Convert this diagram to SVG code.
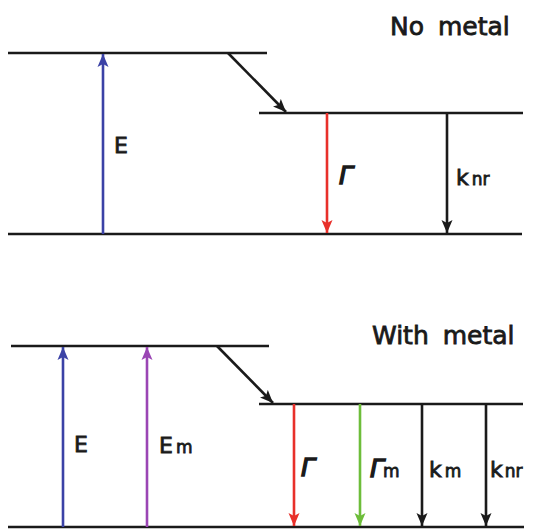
<svg xmlns="http://www.w3.org/2000/svg" width="534" height="529" viewBox="0 0 534 529">
<style>
.lvl{stroke:#1a1a1a;stroke-width:2.7;fill:none;stroke-linecap:butt}
.arr{stroke-width:2.6;fill:none}
.t{font-family:"DejaVu Sans","Liberation Sans",sans-serif;fill:#1a1a1a;stroke:#1a1a1a;stroke-width:0.8}
.title{font-size:25px;word-spacing:6px}
.lab{font-size:22px}
.gam{font-size:25px;font-style:italic;stroke-width:1.4}
.sub{font-size:17px;font-style:normal;stroke-width:0.8}
</style>
<defs>
<marker id="mk" markerUnits="userSpaceOnUse" markerWidth="14" markerHeight="12" refX="13" refY="6" orient="auto" viewBox="0 0 14 12"><path d="M0,0.5 L13,6 L0,11.5 L3,6 z" fill="#1a1a1a"/></marker>
<marker id="mb" markerUnits="userSpaceOnUse" markerWidth="14" markerHeight="12" refX="13" refY="6" orient="auto" viewBox="0 0 14 12"><path d="M0,0.5 L13,6 L0,11.5 L3,6 z" fill="#3b42a6"/></marker>
<marker id="mp" markerUnits="userSpaceOnUse" markerWidth="14" markerHeight="12" refX="13" refY="6" orient="auto" viewBox="0 0 14 12"><path d="M0,0.5 L13,6 L0,11.5 L3,6 z" fill="#9a45b4"/></marker>
<marker id="mr" markerUnits="userSpaceOnUse" markerWidth="14" markerHeight="12" refX="13" refY="6" orient="auto" viewBox="0 0 14 12"><path d="M0,0.5 L13,6 L0,11.5 L3,6 z" fill="#e8302a"/></marker>
<marker id="mg" markerUnits="userSpaceOnUse" markerWidth="14" markerHeight="12" refX="13" refY="6" orient="auto" viewBox="0 0 14 12"><path d="M0,0.5 L13,6 L0,11.5 L3,6 z" fill="#6dbd3a"/></marker>
</defs>
<rect width="534" height="529" fill="#ffffff"/>

<g id="panel-no-metal">
  <g id="levels-top">
    <line class="lvl" x1="8" y1="53" x2="267" y2="53"/>
    <line class="lvl" x1="259" y1="113" x2="523" y2="113"/>
    <line class="lvl" x1="8" y1="234" x2="522" y2="234"/>
  </g>
  <g id="connectors-top">
    <line class="arr" stroke="#3b42a6" x1="103" y1="234" x2="103" y2="54" marker-end="url(#mb)"/>
    <line class="arr" stroke="#1a1a1a" x1="228" y1="53" x2="286" y2="112" marker-end="url(#mk)"/>
    <line class="arr" stroke="#e8302a" x1="327" y1="113" x2="327" y2="233" marker-end="url(#mr)"/>
    <line class="arr" stroke="#1a1a1a" x1="447" y1="113" x2="447" y2="233" marker-end="url(#mk)"/>
  </g>
  <g id="labels-top">
    <text class="t title" x="390" y="35">No metal</text>
    <text class="t lab" x="114" y="153">E</text>
    <text class="t gam" x="339" y="184">Γ</text>
    <text class="t lab" x="456" y="185">k<tspan class="sub" dx="3">nr</tspan></text>
  </g>
</g>

<g id="panel-with-metal">
  <g id="levels-bottom">
    <line class="lvl" x1="11" y1="346" x2="269" y2="346"/>
    <line class="lvl" x1="259" y1="404" x2="523" y2="404"/>
    <line class="lvl" x1="8" y1="527" x2="524" y2="527"/>
  </g>
  <g id="connectors-bottom">
    <line class="arr" stroke="#3b42a6" x1="63" y1="527" x2="63" y2="347" marker-end="url(#mb)"/>
    <line class="arr" stroke="#9a45b4" x1="147" y1="527" x2="147" y2="347" marker-end="url(#mp)"/>
    <line class="arr" stroke="#1a1a1a" x1="217" y1="346" x2="273" y2="403" marker-end="url(#mk)"/>
    <line class="arr" stroke="#e8302a" x1="294" y1="404" x2="294" y2="526" marker-end="url(#mr)"/>
    <line class="arr" stroke="#6dbd3a" x1="360" y1="404" x2="360" y2="526" marker-end="url(#mg)"/>
    <line class="arr" stroke="#1a1a1a" x1="422" y1="404" x2="422" y2="526" marker-end="url(#mk)"/>
    <line class="arr" stroke="#1a1a1a" x1="486" y1="404" x2="486" y2="526" marker-end="url(#mk)"/>
  </g>
  <g id="labels-bottom">
    <text class="t title" x="372" y="344">With metal</text>
    <text class="t lab" x="74" y="452">E</text>
    <text class="t lab" x="159" y="453">E<tspan class="sub" dx="3">m</tspan></text>
    <text class="t gam" x="301" y="476">Γ</text>
    <text class="t gam" x="370" y="477">Γ<tspan class="sub" dx="-1">m</tspan></text>
    <text class="t lab" x="429" y="477">k<tspan class="sub" dx="3">m</tspan></text>
    <text class="t lab" x="490" y="477">k<tspan class="sub" dx="2">nr</tspan></text>
  </g>
</g>
</svg>
